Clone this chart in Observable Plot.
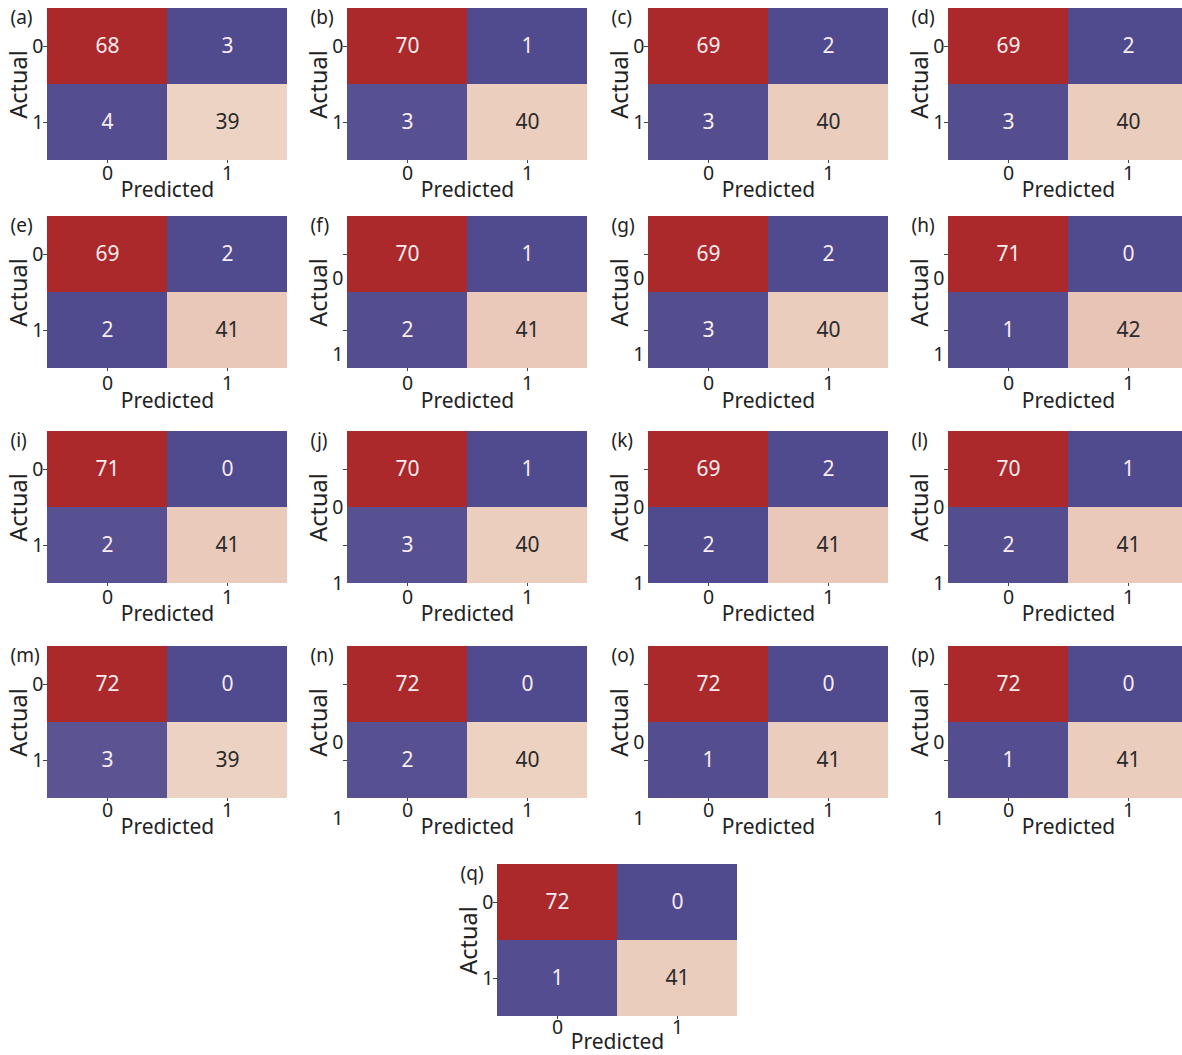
<!DOCTYPE html>
<html>
<head>
<meta charset="utf-8">
<script src="https://cdn.jsdelivr.net/npm/d3@7"></script>
<script src="https://cdn.jsdelivr.net/npm/@observablehq/plot@0.6"></script>
<style>
  html, body { margin: 0; padding: 0; background: #fff; overflow: hidden; }
  #root { position: relative; width: 1182px; height: 1055px; overflow: hidden; background: #fff; }
  .panel { position: absolute; width: 300px; height: 200px; }
  .panel svg { overflow: visible; max-width: none !important; width: 300px !important; height: 200px !important; }
</style>
</head>
<body>
<div id="root"></div>
<script>
// ---- data ----
const panelLabels = ["(a)","(b)","(c)","(d)","(e)","(f)","(g)","(h)","(i)","(j)","(k)","(l)","(m)","(n)","(o)","(p)","(q)"];
const classLabels = ["0", "1"];
const trueNeg  = [68, 70, 69, 69, 69, 70, 69, 71, 71, 70, 69, 70, 72, 72, 72, 72, 72];
const falsePos = [ 3,  1,  2,  2,  2,  1,  2,  0,  0,  1,  2,  1,  0,  0,  0,  0,  0];
const falseNeg = [ 4,  3,  3,  3,  2,  2,  3,  1,  2,  3,  2,  2,  3,  2,  1,  1,  1];
const truePos  = [39, 40, 40, 40, 41, 41, 40, 42, 41, 40, 41, 41, 39, 40, 41, 41, 41];

// ---- layout (heatmap top-left corners, per-row offsets) ----
const colLeft = [47, 347, 648, 948];
const rowTop = [8, 216, 431, 646, 864];
const lastPanelLeft = 497;
const xTickOffset = [13, 15, 14, 12, 11];
const xTitleOffset = [30, 33, 31, 29, 26];
const yLabelShift = [0, 0, 0, 0, 0, 24, 24, 24, 0, 38, 38, 38, 0, 58, 58, 58, 0];

const root = document.getElementById("root");
const font = "'Noto Sans', 'Open Sans', sans-serif";

panelLabels.forEach((lab, i) => {
  const rows = [
    {act: classLabels[0], pred: classLabels[0], v: trueNeg[i]},
    {act: classLabels[0], pred: classLabels[1], v: falsePos[i]},
    {act: classLabels[1], pred: classLabels[0], v: falseNeg[i]},
    {act: classLabels[1], pred: classLabels[1], v: truePos[i]}
  ];
  const [lo, hi] = d3.extent(rows, d => d.v);
  const r = Math.floor(i / 4);
  const left = i < 16 ? colLeft[i % 4] : lastPanelLeft;
  const top = rowTop[r];

  const chart = Plot.plot({
    width: 300, height: 200,
    marginLeft: 47, marginTop: 8, marginRight: 13, marginBottom: 40,
    style: {fontFamily: font, fontSize: "19px", color: "#222", background: "transparent", overflow: "visible"},
    x: {type: "band", domain: classLabels, padding: 0, axis: null},
    y: {type: "band", domain: classLabels, padding: 0, axis: null},
    color: {type: "linear", domain: [lo, lo + 0.55 * (hi - lo), hi], range: ["#504a8e", "#eed4c4", "#ab292a"], interpolate: "rgb"},
    marks: [
      Plot.cell(rows, {x: "pred", y: "act", fill: "v", inset: 0, shapeRendering: "crispEdges"}),
      Plot.text(rows.filter(d => d.v < 20 || d.v > 55), {x: "pred", y: "act", text: d => String(d.v), fill: "#f8ecee", fontSize: 21}),
      Plot.text(rows.filter(d => d.v >= 20 && d.v <= 55), {x: "pred", y: "act", text: d => String(d.v), fill: "#2a2a2a", fontSize: 21}),
      // tick marks
      Plot.axisX({tickSize: 3, tickFormat: () => "", label: null, stroke: "#444"}),
      Plot.axisY({tickSize: 4, tickFormat: () => "", label: null, stroke: "#444"}),
      // tick labels
      Plot.text(classLabels, {x: d => d, frameAnchor: "bottom", dy: xTickOffset[r], lineAnchor: "middle", fontSize: 19.5, fill: "#222"}),
      Plot.text(classLabels, {y: d => d, frameAnchor: "left", dx: -4, dy: yLabelShift[i], textAnchor: "end", lineAnchor: "middle", fontSize: 19.5, fill: "#222"}),
      // titles
      Plot.text(["Predicted"], {frameAnchor: "bottom", dy: xTitleOffset[r], lineAnchor: "middle", fontSize: 21, fill: "#222"}),
      Plot.text(["Actual"], {frameAnchor: "left", dx: -28, rotate: -90, textAnchor: "middle", lineAnchor: "middle", fontSize: 23.5, fill: "#222"}),
      Plot.text([lab], {frameAnchor: "top-left", dx: -37, dy: 9, textAnchor: "start", lineAnchor: "middle", fontSize: 19, fill: "#222"})
    ]
  });
  const div = document.createElement("div");
  div.className = "panel";
  div.style.left = (left - 47) + "px";
  div.style.top = (top - 8) + "px";
  div.appendChild(chart);
  root.appendChild(div);
});
</script>
</body>
</html>
